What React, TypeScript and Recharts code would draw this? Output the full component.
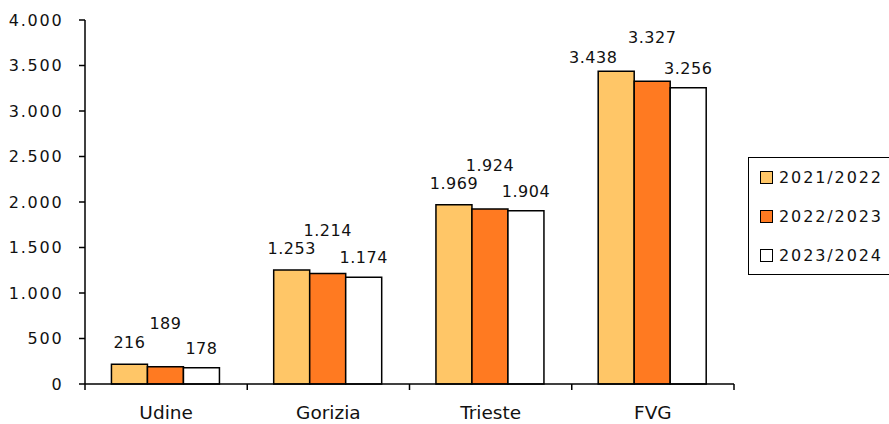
import React from 'react';
import { BarChart, Bar, XAxis, YAxis, Legend, LabelList } from 'recharts';

const categories = ['Udine', 'Gorizia', 'Trieste', 'FVG'];
const series2122 = [216, 1253, 1969, 3438];
const series2223 = [189, 1214, 1924, 3327];
const series2324 = [178, 1174, 1904, 3256];
const yTicks = [0, 500, 1000, 1500, 2000, 2500, 3000, 3500, 4000];
const seriesNames = ['2021/2022', '2022/2023', '2023/2024'];
const seriesKeys = ['s2122', 's2223', 's2324'];
const seriesValues = [series2122, series2223, series2324];
const seriesColors = ['#FFC667', '#FF7A21', '#FFFFFF'];
const labelOffsets = [16, 38, 14];

const data = categories.map((c, i) => ({
  name: c,
  s2122: series2122[i],
  s2223: series2223[i],
  s2324: series2324[i],
}));

const FONT = '"DejaVu Sans", Verdana, sans-serif';
const W = 889;
const H = 424;
const MARGIN = { top: 20, right: 155, left: 0, bottom: 0 };
const Y_AXIS_W = 85;
const X_AXIS_H = 40;
const PLOT_BOTTOM = H - MARGIN.bottom - X_AXIS_H;

const fmt = (v: number) => String(v).replace(/\B(?=(\d{3})+(?!\d))/g, '.');

const CatTick = (props: any) => {
  const { x, y, payload, index } = props;
  const plotW = W - MARGIN.right - MARGIN.left - Y_AXIS_W;
  const off = payload && typeof payload.offset === 'number' && payload.offset > 0 ? payload.offset : plotW / categories.length / 2;
  return (
    <g>
      <line x1={x - off} x2={x - off} y1={y} y2={y + 6} stroke="#000" strokeWidth={1.5} />
      {index === categories.length - 1 && (
        <line x1={x + off} x2={x + off} y1={y} y2={y + 6} stroke="#000" strokeWidth={1.5} />
      )}
      <text x={x} y={y + 35} textAnchor="middle" fontFamily={FONT} fontSize={18.5} fill="#111">
        {payload.value}
      </text>
    </g>
  );
};

// Label above the bar; the first series' label is nudged left/down if it would crowd the second's
const makeLabel = (si: number) => (props: any) => {
  const { x, y, width, value, index } = props;
  const cx = Number(x) + Number(width) / 2;
  let baseline = Number(y) - labelOffsets[si];
  let dx = 0;
  const v = Number(value);
  if (si === 0 && v > 0) {
    const ppu = (PLOT_BOTTOM - Number(y)) / v;
    const nextTop = PLOT_BOTTOM - seriesValues[1][index] * ppu;
    const nextBaseline = nextTop - labelOffsets[1];
    if (baseline - nextBaseline < 17) {
      baseline = Number(y) - 8;
      dx = -23;
    }
  }
  return (
    <text
      x={cx + dx}
      y={baseline}
      textAnchor="middle"
      fontFamily={FONT}
      fontSize={16}
      letterSpacing={0.5}
      fill="#111"
    >
      {fmt(v)}
    </text>
  );
};

const LegendBox = () => (
  <div
    style={{
      border: '1.5px solid #000',
      borderRight: 'none',
      height: 118,
      boxSizing: 'border-box',
      background: '#fff',
      fontFamily: FONT,
      fontSize: 16,
      color: '#111',
    }}
  >
    {seriesNames.map((n, i) => (
      <div key={n} style={{ height: 39, display: 'flex', alignItems: 'center', paddingLeft: 11 }}>
        <div
          style={{
            width: 13,
            height: 13,
            boxSizing: 'border-box',
            border: '1.5px solid #000',
            background: seriesColors[i],
            marginRight: 6,
          }}
        />
        <span style={{ letterSpacing: 1.9, whiteSpace: 'nowrap' }}>{n}</span>
      </div>
    ))}
  </div>
);

export default function App() {
  return (
    <div style={{ position: 'absolute', left: 0, top: 0, background: '#fff' }}>
      <BarChart width={W} height={H} data={data} margin={MARGIN} barCategoryGap="16.3%" barGap={0}>
        <XAxis
          dataKey="name"
          height={X_AXIS_H}
          tickSize={0}
          tickMargin={0}
          tickLine={false}
          axisLine={{ stroke: '#000', strokeWidth: 1.5 }}
          tick={<CatTick />}
          interval={0}
        />
        <YAxis
          width={Y_AXIS_W}
          domain={[0, 4000]}
          ticks={yTicks}
          interval={0}
          tickSize={6}
          tickMargin={15.5}
          tickFormatter={fmt}
          axisLine={{ stroke: '#000', strokeWidth: 1.5 }}
          tickLine={{ stroke: '#000', strokeWidth: 1.5 }}
          tick={{ fontFamily: FONT, fontSize: 16, fill: '#111', letterSpacing: 1.8 }}
        />
        <Legend
          layout="vertical"
          align="center"
          verticalAlign="middle"
          content={<LegendBox />}
          wrapperStyle={{ left: 748, top: 157, width: 141 }}
        />
        {seriesKeys.map((k, i) => (
          <Bar
            key={k}
            dataKey={k}
            name={seriesNames[i]}
            fill={seriesColors[i]}
            stroke="#000"
            strokeWidth={1.5}
            isAnimationActive={false}
          >
            <LabelList dataKey={k} content={makeLabel(i)} />
          </Bar>
        ))}
      </BarChart>
    </div>
  );
}
